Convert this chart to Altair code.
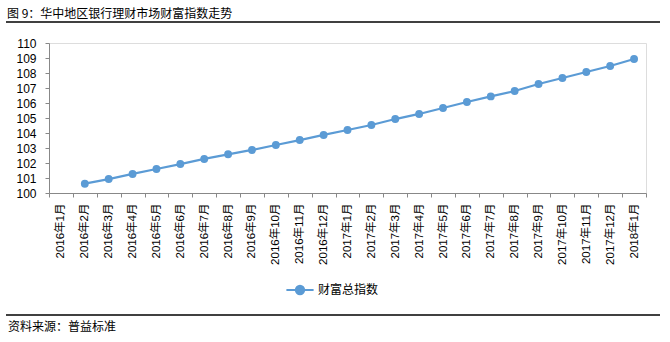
import altair as alt
import pandas as pd

months = ["2016年1月", "2016年2月", "2016年3月", "2016年4月", "2016年5月", "2016年6月",
          "2016年7月", "2016年8月", "2016年9月", "2016年10月", "2016年11月", "2016年12月",
          "2017年1月", "2017年2月", "2017年3月", "2017年4月", "2017年5月", "2017年6月",
          "2017年7月", "2017年8月", "2017年9月", "2017年10月", "2017年11月", "2017年12月",
          "2018年1月"]
values = [None, 100.62, 100.93, 101.27, 101.60, 101.93, 102.27, 102.58, 102.87, 103.20,
          103.53, 103.87, 104.20, 104.53, 104.93, 105.27, 105.67, 106.07, 106.44, 106.80,
          107.27, 107.67, 108.07, 108.47, 108.93]
series_name = "财富总指数"
title_text = "图 9：华中地区银行理财市场财富指数走势"
source_text = "资料来源：普益标准"
y_ticks = list(range(100, 111))

FONT = "Liberation Sans, Arial, Noto Sans CJK SC, sans-serif"
CJK = "Noto Sans CJK SC, Microsoft YaHei, sans-serif"
BLUE = "#5B9BD5"
AXIS_GRAY = "#888888"

df = pd.DataFrame({"month": months, "value": values, "series": series_name})
df = df.dropna()

W, H = 597, 150
PL, PT = 49, 43

legend_path = "M-1,0H1M-0.3,0a0.3,0.3 0 1,0 0.6,0a0.3,0.3 0 1,0 -0.6,0"

x_enc = alt.X("month:N", sort=months,
              scale=alt.Scale(domain=months, paddingInner=0, paddingOuter=0),
              axis=alt.Axis(title=None, labelAngle=270, labelAlign="right",
                            labelBaseline="middle", labelFont=FONT, labelFontSize=11.5,
                            labelColor="#000000", labelPadding=6, tickBand="extent",
                            tickSize=4, tickColor=AXIS_GRAY, domainColor=AXIS_GRAY,
                            grid=False, labelOverlap=False))
y_enc = alt.Y("value:Q", scale=alt.Scale(domain=[100, 110], nice=False, zero=False),
              axis=alt.Axis(title=None, values=y_ticks, labelFont=FONT, labelFontSize=12,
                            labelColor="#000000", labelPadding=9, tickSize=4,
                            tickColor=AXIS_GRAY, domainColor=AXIS_GRAY, grid=False))
color_enc = alt.Color("series:N", scale=alt.Scale(range=[BLUE]),
                      legend=alt.Legend(title=None, orient="none", legendX=236, legendY=232,
                                        symbolType=legend_path, symbolSize=740,
                                        symbolStrokeWidth=2.2, symbolFillColor=BLUE,
                                        symbolStrokeColor=BLUE, labelFont=CJK,
                                        labelFontSize=12, labelColor="#000000",
                                        labelOffset=3))

line = alt.Chart(df).mark_line(strokeWidth=2.2).encode(x=x_enc, y=y_enc, color=color_enc)
pts = alt.Chart(df).mark_point(filled=True, size=62, opacity=1).encode(
    x=x_enc, y=y_enc, color=alt.Color("series:N", scale=alt.Scale(range=[BLUE]), legend=None))

dummy = pd.DataFrame({"a": [0]})
top_rule = alt.Chart(dummy).mark_rule(color="#000000", strokeWidth=1.3).encode(
    x=alt.value(6 - PL), x2=alt.value(660 - PL), y=alt.value(22 - PT))
bot_rule = alt.Chart(dummy).mark_rule(color="#000000", strokeWidth=1.3).encode(
    x=alt.value(6 - PL), x2=alt.value(660 - PL), y=alt.value(315 - PT))
title = alt.Chart(dummy).mark_text(text=title_text, align="left", baseline="middle",
                                   font=CJK, fontSize=12, color="#000000").encode(
    x=alt.value(7 - PL), y=alt.value(13.5 - PT))
source = alt.Chart(dummy).mark_text(text=source_text, align="left", baseline="middle",
                                    font=CJK, fontSize=12, color="#000000").encode(
    x=alt.value(8 - PL), y=alt.value(327 - PT))

chart = alt.layer(line, pts, top_rule, bot_rule, title, source).properties(
    width=W, height=H,
    autosize=alt.AutoSizeParams(type="none"),
    padding={"left": PL, "top": PT, "right": 670 - PL - W, "bottom": 342 - PT - H},
).configure_view(stroke=None).configure(background="#ffffff")

chart.save("out.html", embed_options={"renderer": "svg", "actions": False})
